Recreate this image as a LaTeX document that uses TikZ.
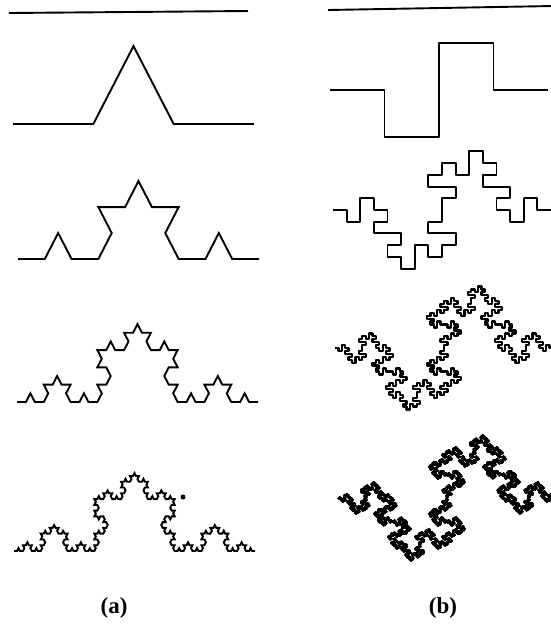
\documentclass[tikz,border=0pt]{standalone}
\usepackage{fontspec}
\setmainfont{Liberation Serif}
\usetikzlibrary{lindenmayersystems}

\pgfdeclarelindenmayersystem{koch}{
  \rule{F -> F+F--F+F}}
\pgfdeclarelindenmayersystem{quadkoch}{
  \rule{F -> F-F+F+FF-F-F+F}}

\tikzset{
  curve/.style={line width=1.9pt},
  thickcurve/.style={line width=2.4pt, line join=round},
  caption/.style={font=\fontsize{23}{26}\selectfont\bfseries}
}

\begin{document}
\begin{tikzpicture}[x=1pt,y=-1pt]
  \useasboundingbox (0,0) rectangle (551,630);
  \clip (0,0) rectangle (551,630);
  % (a) koch curve, orders 0 to 4
  \draw[curve] (9,13) -- (248,11);
  \foreach \n/\xs/\ys in {1/13/124, 2/18/259, 3/17/402, 4/14/551} {
    \pgfmathsetmacro\st{241/3^\n}
    \begin{scope}[shift={(\xs,\ys)}, yscale=1.12]
      \draw[curve, lindenmayer system={koch, axiom=F, order=\n, angle=60, step=\st pt}]
        (0,0) lindenmayer system;
    \end{scope}
  }
  \fill (183,497) circle (2.5);
  % (b) quadratic koch curve, orders 0 to 4
  \draw[curve] (328,10) -- (553,6);
  \foreach \n/\xs/\ys/\lw in {1/330/90/1.9, 2/333/210/1.9, 3/335/348/2.3, 4/338/498/2.8} {
    \pgfmathsetmacro\st{218/4^\n}
    \begin{scope}[shift={(\xs,\ys)}, yscale=0.86]
      \draw[thickcurve, line width=\lw pt, lindenmayer system={quadkoch, axiom=F, order=\n, angle=90, step=\st pt}]
        (0,0) lindenmayer system;
    \end{scope}
  }
  % captions
  \node[caption] (capa) at (114,608) {(a)};
  \node[caption] (capb) at (443,608) {(b)};
\end{tikzpicture}
\end{document}
